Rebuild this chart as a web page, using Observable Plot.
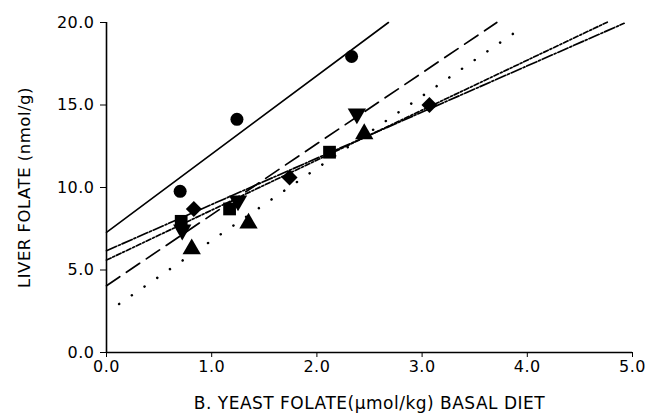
<!DOCTYPE html>
<html>
<head>
<meta charset="utf-8">
<script src="https://cdn.jsdelivr.net/npm/d3@7"></script>
<script src="https://cdn.jsdelivr.net/npm/@observablehq/plot@0.6"></script>
<style>
  html, body { margin: 0; padding: 0; background: #fff; }
  #chart svg { display: block; }
  #chart svg text { letter-spacing: 0.5px; }
</style>
</head>
<body>
<div id="chart"></div>
<script>
// ---- data ----
const groups = ["circle", "invTriangle", "triangle", "diamond", "square"];

const circleX = [0.70, 1.24, 2.33];
const circleY = [9.77, 14.13, 17.94];

const invTriangleX = [0.72, 1.25, 2.38];
const invTriangleY = [7.43, 9.20, 14.47];

const triangleX = [0.81, 1.35, 2.45];
const triangleY = [6.27, 7.83, 13.25];

const diamondX = [0.83, 1.74, 3.07];
const diamondY = [8.70, 10.60, 15.00];

const squareX = [0.71, 1.17, 2.12];
const squareY = [7.95, 8.70, 12.14];

// fitted lines: start and end points [x, y]
const lineStartX = [0.00, 0.00, 0.12, 0.00, 0.00];
const lineStartY = [7.28, 4.05, 2.94, 6.17, 5.60];
const lineEndX   = [2.68, 3.71, 3.97, 4.92, 4.76];
const lineEndY   = [20.00, 20.00, 19.78, 19.95, 20.02];

const xTicks = [0, 1, 2, 3, 4, 5];
const yTicks = [0, 5, 10, 15, 20];

const xTitle = "B. YEAST FOLATE(\u03bcmol/kg) BASAL DIET";
const yTitle = "LIVER FOLATE (nmol/g)";

// ---- build tables ----
function pts(name, xs, ys) { return xs.map((x, i) => ({group: name, x, y: ys[i]})); }
const circles = pts("circle", circleX, circleY);
const invTris = pts("invTriangle", invTriangleX, invTriangleY);
const tris = pts("triangle", triangleX, triangleY);
const diamonds = pts("diamond", diamondX, diamondY);
const squares = pts("square", squareX, squareY);

const lines = groups.map((g, i) => [
  {group: g, x: lineStartX[i], y: lineStartY[i]},
  {group: g, x: lineEndX[i], y: lineEndY[i]}
]);

const lineStyles = {
  circle:      {strokeWidth: 1.6},
  invTriangle: {strokeWidth: 1.7, strokeDasharray: "16,8"},
  triangle:    {strokeWidth: 2.5, strokeDasharray: "0.1,15.3", strokeLinecap: "round"},
  diamond:     {strokeWidth: 1.7, strokeDasharray: "11,2,2,2"},
  square:      {strokeWidth: 1.7, strokeDasharray: "5,2,2,2"}
};

const fmt = d3.format(".1f");

const chart = Plot.plot({
  width: 646,
  height: 414,
  marginLeft: 106,
  marginRight: 14,
  marginTop: 22,
  marginBottom: 62,
  style: {fontFamily: "'DejaVu Sans', sans-serif", fontSize: "16px", color: "#000", background: "#fff"},
  x: {domain: [0, 5]},
  y: {domain: [0, 20]},
  marks: [
    ...lines.map((l, i) => Plot.line(l, {x: "x", y: "y", stroke: "black", ...lineStyles[groups[i]]})),
    Plot.dot(circles, {x: "x", y: "y", symbol: "circle", r: 6.5, fill: "black"}),
    Plot.dot(squares, {x: "x", y: "y", symbol: "square", r: 7.2, fill: "black"}),
    Plot.dot(diamonds, {x: "x", y: "y", symbol: "diamond2", r: 7.2, fill: "black"}),
    Plot.dot(tris, {x: "x", y: "y", symbol: "triangle", r: 6.8, fill: "black"}),
    Plot.dot(invTris, {x: "x", y: "y", symbol: "triangle", r: 6.8, fill: "black", rotate: 180}),
    Plot.axisX({ticks: xTicks, tickFormat: fmt, tickSize: 5, tickPadding: 3, fontSize: 16, label: null}),
    Plot.axisX({ticks: [], label: xTitle, labelAnchor: "center", labelArrow: "none", labelOffset: 56, fontSize: 17}),
    Plot.axisY({ticks: yTicks, tickFormat: fmt, tickSize: 6, tickPadding: 6, fontSize: 16, label: null}),
    Plot.axisY({ticks: [], label: yTitle, labelAnchor: "center", labelArrow: "none", labelOffset: 88, fontSize: 16.5}),
    Plot.ruleX([0], {strokeWidth: 1.6}),
    Plot.ruleY([0], {strokeWidth: 1.6})
  ]
});

document.getElementById("chart").appendChild(chart);
</script>
</body>
</html>
